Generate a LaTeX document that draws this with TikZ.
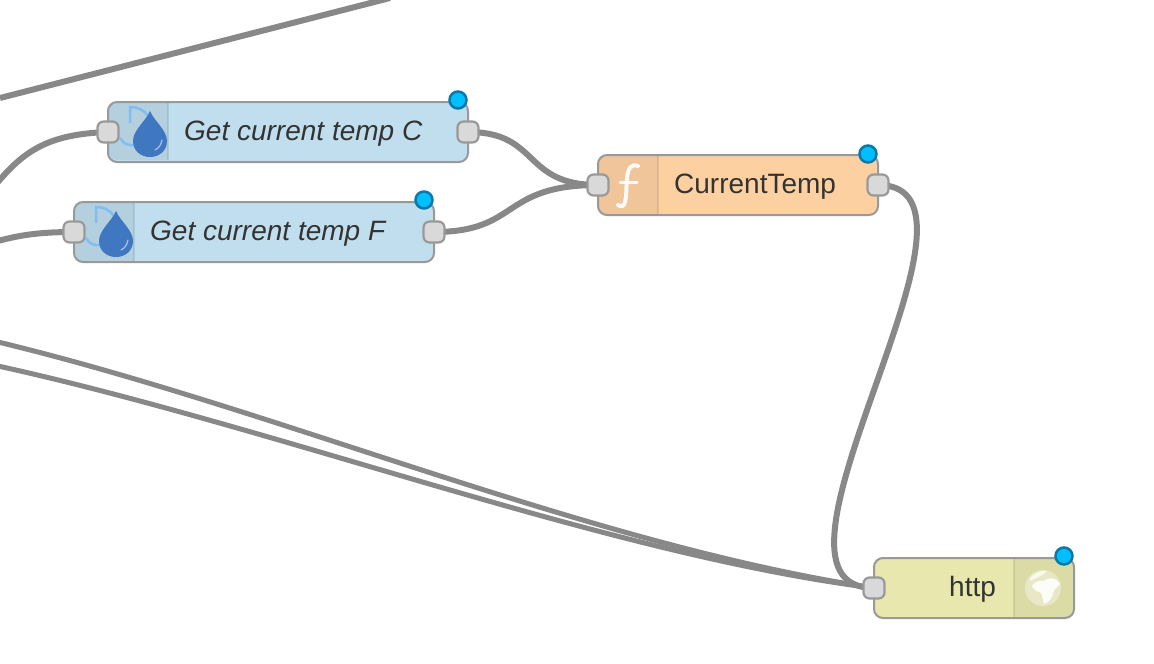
\documentclass[tikz,border=0pt]{standalone}
\usepackage{fontspec}
\usetikzlibrary{backgrounds}
\setmainfont{Liberation Sans}
\definecolor{wirec}{HTML}{888888}
\definecolor{edgec}{HTML}{999999}
\definecolor{bluen}{HTML}{C0DEED}
\definecolor{orangen}{HTML}{FDD0A2}
\definecolor{yellown}{HTML}{E7E7AE}
\definecolor{portc}{HTML}{D9D9D9}
\definecolor{dotc}{HTML}{00BFFF}
\definecolor{dotb}{HTML}{0B78A8}
\definecolor{dropc}{HTML}{3F78C0}
\definecolor{arcc}{HTML}{7FBDF2}
\definecolor{textc}{HTML}{333333}
\tikzset{
  x=1pt,y=-1pt,
  wire/.style={draw=wirec,line width=6pt},
  body/.style={draw=edgec,line width=2pt,rounded corners=9pt,minimum height=60pt,inner sep=0pt},
  portb/.style={draw=edgec,fill=portc,line width=2.2pt,rounded corners=6pt,minimum width=21pt,minimum height=21pt,inner sep=0pt},
  dotn/.style={circle,draw=dotb,fill=dotc,line width=2.5pt,minimum size=17pt,inner sep=0pt},
  lab/.style={text=textc,font=\fontsize{28}{28}\selectfont,inner sep=0pt,anchor=base west},
}
\newcommand{\dropicon}[2]{%
  \begin{scope}[shift={(#1,#2)}]
    \draw[arcc,line width=2.5pt] (-20,-10) -- (-20,-26) .. controls (-12,-26) and (-6,-23) .. (-2,-17);
    \draw[arcc,line width=2.5pt] (-30,5) .. controls (-27,11) and (-21,13) .. (-15,12);
    \fill[dropc] (0,-22) .. controls (4,-12) and (17,-3) .. (17,8) .. controls (17,18) and (9,24) .. (0,24) .. controls (-9,24) and (-17,18) .. (-17,8) .. controls (-17,-3) and (-4,-12) .. (0,-22) -- cycle;
    \draw[white,opacity=.55,line width=1.2pt,line cap=round] (12,7) .. controls (11,12) and (9,15) .. (5,17);
  \end{scope}}
\begin{document}
\begin{tikzpicture}
\useasboundingbox (0,0) rectangle (1154,664);
\coordinate (t1) at (0,98);
\coordinate (t2) at (390,-2);
\coordinate (l1) at (-2,182);
\coordinate (l2) at (-2,241);
\coordinate (l3) at (-2,342);
\coordinate (l4) at (-2,366);

% node bodies
\node[body,fill=bluen,minimum width=360pt] (a) at (288,132) {};
\node[body,fill=bluen,minimum width=360pt] (b) at (254,232) {};
\node[body,fill=orangen,minimum width=280pt] (c) at (738,185) {};
\node[body,fill=yellown,minimum width=200pt] (d) at (974,588) {};

% icon panels
\begin{scope}
  \clip[rounded corners=8pt] (109,103) rectangle (467,160);
  \fill[black,opacity=.06] (109,103) rectangle (168,160);
  \draw[black,opacity=.09,line width=1.5pt] (168,103) -- (168,160);
\end{scope}
\begin{scope}
  \clip[rounded corners=8pt] (75,203) rectangle (433,261);
  \fill[black,opacity=.06] (75,203) rectangle (134,261);
  \draw[black,opacity=.09,line width=1.5pt] (134,203) -- (134,261);
\end{scope}
\begin{scope}
  \clip[rounded corners=8pt] (599,156) rectangle (877,214);
  \fill[black,opacity=.05] (599,156) rectangle (658,214);
  \draw[black,opacity=.09,line width=1.5pt] (658,156) -- (658,214);
\end{scope}
\begin{scope}
  \clip[rounded corners=8pt] (875,559) rectangle (1073,617);
  \fill[black,opacity=.05] (1014,559) rectangle (1073,617);
  \draw[black,opacity=.09,line width=1.5pt] (1014,559) -- (1014,617);
\end{scope}

\dropicon{150}{133}
\dropicon{116}{233}

% function icon
\draw[white,opacity=.92,line width=4pt,line cap=round] (638,166) .. controls (630,163) and (628,170) .. (627,178) .. controls (626,188) and (627,195) .. (625,202) .. controls (624,207) and (621,207) .. (618,205);
\draw[white,opacity=.92,line width=3pt,line cap=round] (620,182) -- (637,182);

% globe icon
\fill[white,opacity=.38] (1043,588) circle (18);
\fill[white,opacity=.9] (1032,586) .. controls (1036,580) and (1040,581) .. (1044,581) .. controls (1050,576) and (1056,578) .. (1060,584) .. controls (1057,587) and (1054,590) .. (1053,592) .. controls (1053,598) and (1049,602) .. (1044,604) .. controls (1042,599) and (1043,594) .. (1040,592) .. controls (1037,592) and (1034,590) .. (1032,586) -- cycle;
\fill[white,opacity=.75] (1030,578) .. controls (1034,573) and (1041,570) .. (1047,571) .. controls (1042,576) and (1036,578) .. (1030,581) -- cycle;

% labels
\node[lab,font=\fontsize{28}{28}\selectfont\itshape] (la) at (184,140) {Get current temp C};
\node[lab,font=\fontsize{28}{28}\selectfont\itshape] (lb) at (150,240) {Get current temp F};
\node[lab] (lc) at (674,193) {CurrentTemp};
\node[lab] (ld) at (949,596) {http};

% ports
\node[portb] (ain) at (108,132) {};
\node[portb] (aout) at (468,132) {};
\node[portb] (bin) at (74,232) {};
\node[portb] (bout) at (434,232) {};
\node[portb] (cin) at (598,185) {};
\node[portb] (cout) at (878,185) {};
\node[portb] (din) at (874,588) {};

% wires
\begin{scope}[on background layer]
\draw[wire] (t1) -- (t2);
\draw[wire] (l1) .. controls (25,150) and (50,134) .. (ain.center);
\draw[wire] (l2) .. controls (20,235) and (40,232) .. (bin.center);
\draw[wire] (aout.center) .. controls (540,132) and (522,185) .. (cin.center);
\draw[wire] (bout.center) .. controls (520,232) and (500,185) .. (cin.center);
\draw[wire] (cout.center) .. controls (1015,185) and (735,588) .. (din.center);
\draw[wire,line width=5pt] (l3) .. controls (280,410) and (590,545) .. (din.center);
\draw[wire,line width=5pt] (l4) .. controls (280,428) and (610,555) .. (din.center);
\end{scope}

% status dots
\node[dotn] (da) at (458,100) {};
\node[dotn] (db) at (424,200) {};
\node[dotn] (dc) at (868,154) {};
\node[dotn] (dd) at (1064,556) {};
\end{tikzpicture}
\end{document}
